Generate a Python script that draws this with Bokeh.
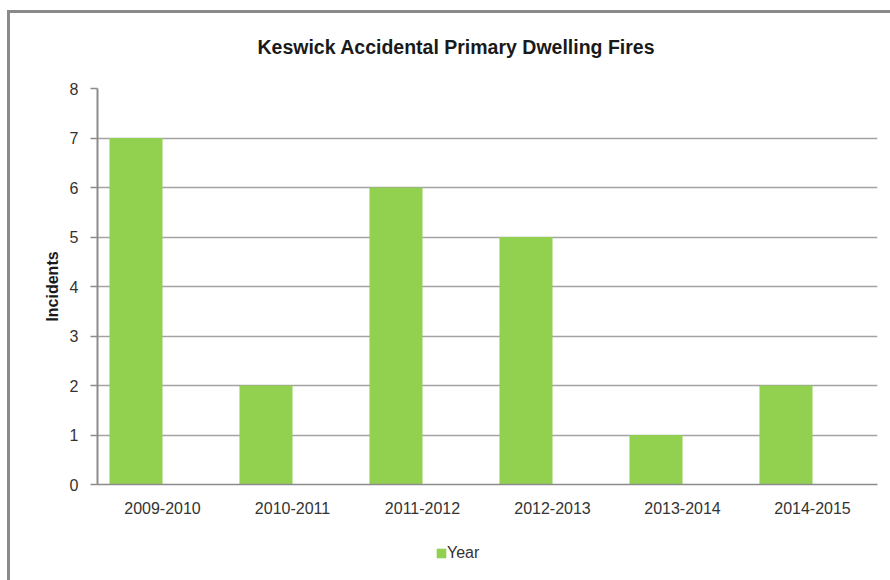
from bokeh.plotting import figure
from bokeh.layouts import column
from bokeh.models import Range1d, FactorRange, Legend, LegendItem, ColumnDataSource, FixedTicker, InlineStyleSheet
from bokeh.transform import dodge
from bokeh.embed import file_html
from bokeh.resources import INLINE

# ---- data ----
categories = ["2009-2010", "2010-2011", "2011-2012", "2012-2013", "2013-2014", "2014-2015"]
incidents = [7, 2, 6, 5, 1, 2]
series_name = "Year"
y_ticks = [0, 1, 2, 3, 4, 5, 6, 7, 8]
title_text = "Keswick Accidental Primary Dwelling Fires"
y_label = "Incidents"

FONT = "Liberation Sans"
GREEN = "#92D050"
GRID = "#a3a3a3"
AXIS = "#8c8c8c"
TXT = "#333333"
FRAME = "#8a8a8a"

src = ColumnDataSource(dict(cat=categories, val=incidents))
xr = FactorRange(*categories, range_padding=0)

p = figure(width=890, height=525,
           x_range=xr, y_range=Range1d(0, 8),
           output_backend="svg", toolbar_location=None,
           min_border_left=97, min_border_right=13,
           min_border_top=88, min_border_bottom=41)

r = p.vbar(x=dodge("cat", -0.204, range=xr), top="val", bottom=0,
           width=0.408, source=src, fill_color=GREEN, line_color=None)

p.outline_line_color = None
p.background_fill_color = "white"
p.border_fill_color = None
p.stylesheets = [InlineStyleSheet(css=f"""
:host::before {{ content: ''; position: absolute; left: 7px; top: 10px; right: 0px; bottom: 0px;
  border-left: 3px solid {FRAME}; border-top: 3px solid {FRAME}; pointer-events: none; }}
""")]

# title
p.title.text = title_text
p.title.align = "left"
p.title.offset = 160
p.title.standoff = 61
p.title.text_font = FONT
p.title.text_font_size = "19.5px"
p.title.text_font_style = "bold"
p.title.text_color = "#1a1a1a"

# grid
p.xgrid.grid_line_color = None
p.ygrid.grid_line_color = GRID
p.ygrid.grid_line_width = 1.5

# y axis
p.yaxis.ticker = FixedTicker(ticks=y_ticks)
p.yaxis.axis_line_color = AXIS
p.yaxis.axis_line_width = 2
p.yaxis.major_tick_line_color = AXIS
p.yaxis.major_tick_line_width = 1.5
p.yaxis.major_tick_out = 7
p.yaxis.major_tick_in = 0
p.yaxis.minor_tick_line_color = None
p.yaxis.major_label_text_font = FONT
p.yaxis.major_label_text_font_size = "16px"
p.yaxis.major_label_text_color = TXT
p.yaxis.major_label_standoff = 12
p.yaxis.axis_label = y_label
p.yaxis.axis_label_text_font = FONT
p.yaxis.axis_label_text_font_size = "16px"
p.yaxis.axis_label_text_font_style = "bold"
p.yaxis.axis_label_text_color = "#1a1a1a"
p.yaxis.axis_label_standoff = 6

# x axis
p.xaxis.axis_line_color = AXIS
p.xaxis.axis_line_width = 1.5
p.xaxis.major_tick_line_color = None
p.xaxis.minor_tick_line_color = None
p.xaxis.major_label_text_font = FONT
p.xaxis.major_label_text_font_size = "16px"
p.xaxis.major_label_text_color = TXT
p.xaxis.major_label_standoff = 11

# legend strip (separate small canvas below the chart, sharing the x range)
leg = figure(width=890, height=55, x_range=xr, y_range=Range1d(100, 101),
             output_backend="svg", toolbar_location=None,
             x_axis_type=None, y_axis_type=None, min_border=0)
leg.outline_line_color = None
leg.grid.visible = False
leg.border_fill_color = None
leg.background_fill_color = None
leg.stylesheets = [InlineStyleSheet(css=f"""
:host::before {{ content: ''; position: absolute; left: 7px; top: 0px; bottom: 0px; width: 0px;
  border-left: 3px solid {FRAME}; pointer-events: none; }}
""")]
lr = leg.vbar(x=dodge("cat", -0.204, range=xr), top="val", bottom=0,
              width=0.408, source=src, fill_color=GREEN, line_color=None)

legend = Legend(items=[LegendItem(label=series_name, renderers=[lr])],
                location=(338, 18), orientation="horizontal",
                glyph_width=12, glyph_height=12, label_standoff=0,
                label_height=19, padding=0, margin=0, spacing=0,
                label_text_font=FONT, label_text_font_size="16px",
                label_text_color=TXT, border_line_color=None,
                background_fill_alpha=0)
leg.add_layout(legend, "center")

layout = column(p, leg, spacing=0)
open("out.html", "w").write(file_html(layout, INLINE))
